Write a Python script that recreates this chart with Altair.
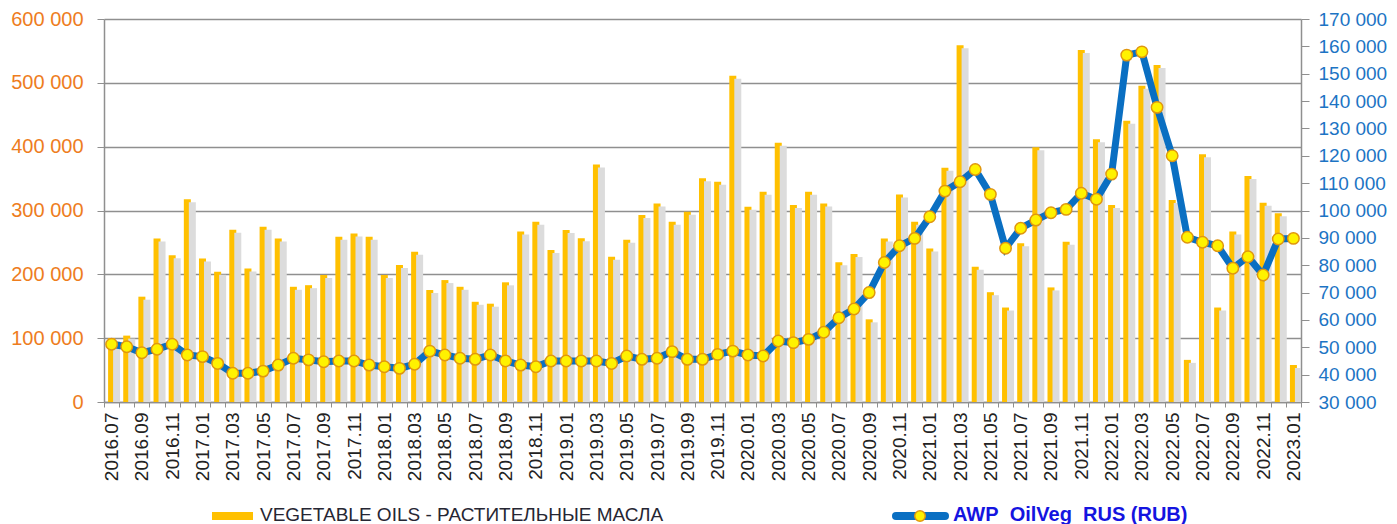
import altair as alt
import pandas as pd

months = []
y, m = 2016, 7
for _ in range(79):
    months.append(f"{y}.{m:02d}")
    m += 1
    if m > 12:
        m = 1
        y += 1

oils = [100000, 104000, 165000, 256000, 230000, 317500, 225000, 204000, 270000, 209000,
        274500, 256000, 180500, 183000, 199000, 259000, 264000, 259000, 199000, 214500,
        235500, 175500, 191000, 180500, 157000, 154000, 187500, 267000, 282500, 238000,
        269500, 256500, 372000, 227500, 254000, 293000, 311000, 282500, 298000, 350500,
        345000, 511000, 306000, 329500, 406000, 308500, 329500, 311000, 219000, 232000,
        129500, 256000, 325000, 282500, 240500, 367000, 559000, 212000, 172000, 148000,
        248500, 399000, 179500, 251000, 551500, 411500, 308500, 440500, 495500, 528000,
        316500, 66000, 388000, 148000, 267000, 354000, 312000, 295500, 58000]

awp = [51100, 50200, 48000, 49300, 51100, 47200, 46600, 44100, 40500, 40500,
       41300, 43500, 46000, 45400, 44700, 45000, 45000, 43500, 42900, 42300,
       43800, 48600, 47200, 46000, 45600, 47200, 45000, 43500, 42900, 45000,
       45000, 45000, 45000, 44100, 46800, 45600, 46000, 48400, 45600, 45600,
       47400, 48600, 47200, 46800, 52300, 51700, 52900, 55500, 60800, 64000,
       70000, 81000, 87100, 89800, 97700, 107100, 110500, 115000, 105900, 86200,
       93500, 96500, 99200, 100400, 106300, 104100, 113300, 156800, 158000, 137700,
       120000, 90200, 88400, 87100, 78900, 83100, 76400, 89600, 89800]

left_ticks = [0, 100000, 200000, 300000, 400000, 500000, 600000]
right_ticks = list(range(30000, 170001, 10000))

bar_label = "VEGETABLE OILS - РАСТИТЕЛЬНЫЕ МАСЛА"
line_label = "AWP\u00a0\u00a0OilVeg\u00a0\u00a0RUS (RUB)"

df = pd.DataFrame({"month": months, "oils": oils, "awp": awp})

FONT = "Liberation Sans"
ORANGE = "#EE7D1E"
BLUE = "#1C74C4"
GRID = "#8f8f8f"
fmt = "replace(format(datum.value, ','), ',', ' ')"

x = alt.X(
    "month:N", sort=months, title=None,
    scale=alt.Scale(paddingInner=0, paddingOuter=0),
    axis=alt.Axis(
        labelAngle=-90, labelFont=FONT, labelFontSize=19, labelColor="#222222",
        labelExpr="toNumber(substring(datum.label, 5, 7)) % 2 == 1 ? datum.label : ''",
        labelOverlap=False, labelPadding=5, tickBand="extent", tickSize=5,
        tickColor=GRID, domainColor=GRID, domainWidth=1.5, grid=False,
    ),
)

yL_scale = alt.Scale(domain=[0, 600000], nice=False)
yR_scale = alt.Scale(domain=[30000, 170000], nice=False, zero=False)

base = alt.Chart(df)

bars = base.mark_bar(size=7, color="#FFC000").encode(
    x=x,
    y=alt.Y("oils:Q", scale=yL_scale, title=None,
            axis=alt.Axis(values=left_ticks, labelExpr=fmt, labelFont=FONT, labelFontSize=20,
                          labelColor=ORANGE, grid=True, gridColor=GRID, gridWidth=1.5,
                          tickSize=7, tickColor=GRID, domainColor=GRID, domainWidth=1.5,
                          labelPadding=14, orient="left")),
)
shadow = base.mark_bar(size=7, color="#dcdcdc", xOffset=5, yOffset=3, clip=True).encode(
    x=x, y=alt.Y("oils:Q", scale=yL_scale, axis=None)
)
line = base.mark_line(color="#0A6FC2", strokeWidth=7).encode(
    x=x,
    y=alt.Y("awp:Q", scale=yR_scale, title=None,
            axis=alt.Axis(orient="right", values=right_ticks, labelExpr=fmt, labelFont=FONT,
                          labelFontSize=19, labelColor=BLUE, grid=False, tickSize=8,
                          tickColor=GRID, domainColor=GRID, domainWidth=1.5, labelPadding=9)),
)
points = base.mark_point(shape="circle", filled=True, size=130, fill="#FFF200",
                         stroke="#E0960F", strokeWidth=1.5, opacity=1).encode(
    x=x, y=alt.Y("awp:Q", scale=yR_scale, axis=None)
)

one = pd.DataFrame({"k": [0]})
leg_rect = alt.Chart(one).mark_rect(color="#FFC000").encode(
    x=alt.value(108), x2=alt.value(149), y=alt.value(493), y2=alt.value(501)
)
leg_text1 = alt.Chart(one).mark_text(align="left", baseline="alphabetic", font=FONT,
                                     fontSize=19, color="#262633", text=bar_label).encode(
    x=alt.value(156), y=alt.value(502)
)
leg_line = alt.Chart(one).mark_rule(color="#0A6FC2", strokeWidth=8, strokeCap="round").encode(
    x=alt.value(792), x2=alt.value(841), y=alt.value(497)
)
leg_pt = alt.Chart(one).mark_point(shape="circle", filled=True, size=110, fill="#FFF200",
                                   stroke="#E0960F", strokeWidth=1.5, opacity=1).encode(
    x=alt.value(816), y=alt.value(497)
)
leg_text2 = alt.Chart(one).mark_text(align="left", baseline="alphabetic", font=FONT,
                                     fontSize=20, fontWeight="bold", color="#1414E0",
                                     text=line_label).encode(
    x=alt.value(849), y=alt.value(502)
)

chart = alt.layer(bars, shadow, line, points, leg_rect, leg_text1, leg_line, leg_pt, leg_text2).resolve_scale(
    y="independent"
).properties(
    width=1197, height=383,
    autosize=alt.AutoSizeParams(type="none"),
    padding={"left": 96, "top": 11, "right": 88, "bottom": 122},
    background="white",
).configure_view(strokeWidth=0)

chart.save("out.html", embed_options={"renderer": "svg", "actions": False})
